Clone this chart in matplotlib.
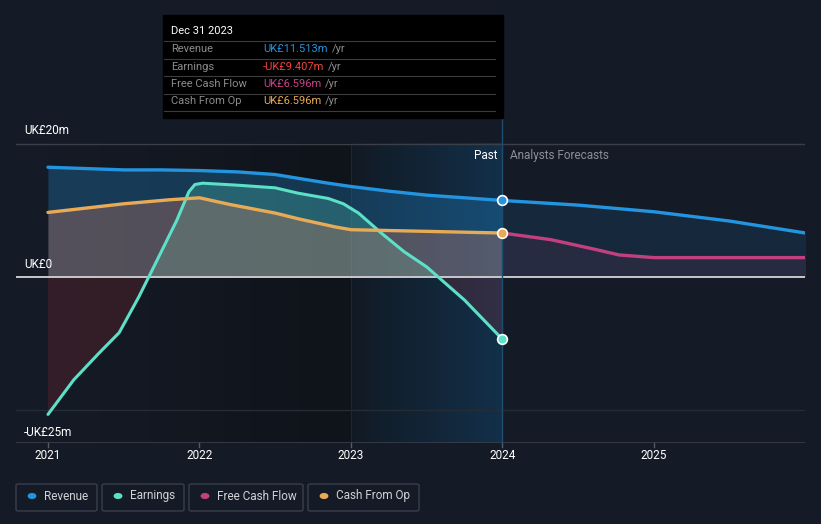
import matplotlib.pyplot as plt
import numpy as np
from matplotlib.patches import FancyBboxPatch, Rectangle
from matplotlib.lines import Line2D
from matplotlib.colors import to_rgb

plt.rcParams['font.family'] = ['Roboto', 'DejaVu Sans']

# data (UK£ m), x as decimal years
rev_x = [2021.0, 2021.25, 2021.5, 2021.75, 2022.0, 2022.25, 2022.5, 2022.66, 2022.85, 2023.0, 2023.25, 2023.5, 2023.75, 2024.0]
rev_y = [16.5, 16.3, 16.1, 16.1, 16.0, 15.8, 15.4, 14.8, 14.1, 13.6, 12.9, 12.3, 11.9, 11.5]
rev_fx = [2024.0, 2024.5, 2025.0, 2025.5, 2026.0]
rev_fy = [11.5, 10.8, 9.8, 8.4, 6.6]

earn_x = [2021.0, 2021.17, 2021.34, 2021.47, 2021.6, 2021.72, 2021.85, 2021.93, 2021.97, 2022.02, 2022.25,
          2022.5, 2022.65, 2022.85, 2022.95, 2023.05, 2023.2, 2023.35, 2023.5, 2023.75, 2024.0]
earn_y = [-20.7, -15.5, -11.4, -8.4, -3.0, 2.5, 8.5, 12.8, 13.9, 14.1, 13.8,
          13.4, 12.6, 11.8, 11.0, 9.6, 6.6, 3.8, 1.5, -3.5, -9.4]

cfo_x = [2021.0, 2021.5, 2021.8, 2022.0, 2022.2, 2022.5, 2022.66, 2022.9, 2023.0, 2024.0]
cfo_y = [9.7, 11.0, 11.6, 11.9, 10.9, 9.6, 8.7, 7.5, 7.1, 6.6]

fcf_x = [2024.0, 2024.32, 2024.6, 2024.77, 2025.0, 2025.5, 2026.0]
fcf_y = [6.6, 5.6, 4.2, 3.3, 2.9, 2.9, 2.9]

year_ticks = [2021, 2022, 2023, 2024, 2025]

BG = '#151b26'
C_REV = '#2394df'
C_EARN = '#5ce0c8'
C_FCF = '#c2407f'
C_CFO = '#e8aa55'


def gradient(c0, c1, n=200):
    a = np.array(to_rgb(c0))
    b = np.array(to_rgb(c1))
    t = np.linspace(0, 1, n)[:, None]
    row = a + (b - a) * t
    return np.stack([row, row])


def main():
    fig = plt.figure(figsize=(8.21, 5.24), dpi=100, facecolor=BG)
    ax = fig.add_axes([16 / 821, 1 - 443 / 524, 789 / 821, 325 / 524])
    ax.set_facecolor(BG)
    ax.set_xlim(2020.789, 2025.997)
    ytop = 20 + 26 / 6.65
    ax.set_ylim(-25, ytop)
    for s in ax.spines.values():
        s.set_visible(False)
    ax.set_yticks([])
    ax.set_xticks([])

    # past shading
    ax.imshow(gradient(BG, '#0f131a'), extent=[2021.0, 2023.0, -25, 20], aspect='auto', zorder=0)
    ax.imshow(gradient('#111a24', '#13304a'), extent=[2023.0, 2024.0, -25, 20], aspect='auto', zorder=0)
    ax.plot([2023.0, 2023.0], [-25, 20], color='#1a2736', lw=0.8, zorder=0.5)

    # grid lines
    ax.axhline(20, color='#3a3f49', lw=1, zorder=1)
    ax.axhline(-20, color='#262c36', lw=1, zorder=1)
    ax.axhline(-25, color='#3a3f49', lw=1.2, zorder=1)

    # fills
    ax.fill_between(rev_x, rev_y, 0, color=C_REV, alpha=0.28, lw=0, zorder=2)
    ax.fill_between(rev_fx, rev_fy, 0, color=C_REV, alpha=0.12, lw=0, zorder=2)
    ex = np.array(earn_x)
    ey = np.array(earn_y)
    ax.fill_between(ex, ey, 0, where=ey >= 0, interpolate=True, color=C_EARN, alpha=0.25, lw=0, zorder=2)
    ax.fill_between(ex, ey, 0, where=ey <= 0, interpolate=True, color='#c0303a', alpha=0.18, lw=0, zorder=2)
    ax.fill_between(cfo_x, cfo_y, 0, color=C_CFO, alpha=0.22, lw=0, zorder=2)
    ax.fill_between(cfo_x, cfo_y, 0, color=C_FCF, alpha=0.12, lw=0, zorder=2)
    ax.fill_between(fcf_x, fcf_y, 0, color=C_FCF, alpha=0.1, lw=0, zorder=2)

    ax.axhline(0, color='#c8c8cc', lw=1.4, zorder=3)

    # lines
    ax.plot(rev_x, rev_y, color=C_REV, lw=2.4, zorder=4, solid_capstyle='round', solid_joinstyle='round')
    ax.plot(rev_fx, rev_fy, color=C_REV, lw=2.4, zorder=4, solid_capstyle='round', solid_joinstyle='round')
    ax.plot(earn_x, earn_y, color=C_EARN, lw=2.2, zorder=4, solid_capstyle='round', solid_joinstyle='round')
    ax.plot(fcf_x, fcf_y, color=C_FCF, lw=2.4, zorder=4, solid_capstyle='round', solid_joinstyle='round')
    ax.plot(cfo_x, cfo_y, color=C_CFO, lw=2.4, zorder=5, solid_capstyle='round', solid_joinstyle='round')

    ax.plot([2024.0], [rev_y[-1]], 'o', ms=7, mfc=C_REV, mec='white', mew=1.2, zorder=6)
    ax.plot([2024.0], [cfo_y[-1]], 'o', ms=7, mfc=C_CFO, mec='white', mew=1.2, zorder=6)
    ax.plot([2024.0], [earn_y[-1]], 'o', ms=7, mfc=C_EARN, mec='white', mew=1.2, zorder=6)

    # vertical marker line
    ax.plot([2024.0, 2024.0], [-25, ytop], color='#1f4d70', lw=1, zorder=3)

    # x ticks
    for yr in year_ticks:
        ax.plot([yr, yr], [-25, -25.6], color='#555a63', lw=1, clip_on=False)
        ax.text(yr, -26.9, str(yr), color='white', fontsize=8.5, ha='center', va='center', clip_on=False)

    # y labels
    fig.text(24 / 821, 1 - 131 / 524, 'UK£20m', color='white', fontsize=8.5, va='center')
    fig.text(24 / 821, 1 - 264 / 524, 'UK£0', color='white', fontsize=8.5, va='center')
    fig.text(24 / 821, 1 - 432 / 524, '-UK£25m', color='white', fontsize=8.5, va='center')

    fig.text(497 / 821, 1 - 156 / 524, 'Past', color='white', fontsize=8.5, ha='right', va='center')
    fig.text(510 / 821, 1 - 156 / 524, 'Analysts Forecasts', color='#8a8f98', fontsize=8.5, va='center')

    # tooltip
    fig.patches.append(Rectangle((163 / 821, 1 - 118 / 524), 340 / 821, 103 / 524,
                                 transform=fig.transFigure, color='black', zorder=10))
    fig.text(171 / 821, 1 - 31 / 524, 'Dec 31 2023', color='white', fontsize=8, va='center', zorder=11)
    rows = [('Revenue', 'UK£11.513m', C_REV), ('Earnings', '-UK£9.407m', '#f0443f'),
            ('Free Cash Flow', 'UK£6.596m', '#c8418a'), ('Cash From Op', 'UK£6.596m', C_CFO)]
    for i, (name, val, c) in enumerate(rows):
        yy = 49 + i * 17.5
        fig.lines.append(Line2D([164 / 821, 495 / 821], [1 - (yy - 8) / 524] * 2, transform=fig.transFigure,
                                color='#3c3c3c', lw=0.8, zorder=11))
        fig.text(171 / 821, 1 - yy / 524, name, color='#8c8c8c', fontsize=8, va='center', zorder=11)
        t = fig.text(263 / 821, 1 - yy / 524, val, color=c, fontsize=8, va='center', zorder=11)
        fig.canvas.draw()
        bb = t.get_window_extent()
        fig.text(bb.x1 / 821 + 4 / 821, 1 - yy / 524, '/yr', color='#8c8c8c', fontsize=8, va='center', zorder=11)
    fig.lines.append(Line2D([164 / 821, 495 / 821], [1 - 111 / 524] * 2, transform=fig.transFigure,
                            color='#3c3c3c', lw=0.8, zorder=11))

    # legend
    items = [('Revenue', C_REV, 16, 81), ('Earnings', C_EARN, 102, 82),
             ('Free Cash Flow', C_FCF, 189, 114), ('Cash From Op', C_CFO, 308, 111)]
    for name, c, x0, w in items:
        fig.patches.append(FancyBboxPatch((x0 / 821, 1 - 511 / 524), w / 821, 27 / 524,
                                          boxstyle='round,pad=0,rounding_size=0.003',
                                          transform=fig.transFigure, fc='none', ec='#3a3f4a', lw=1))
        fig.patches.append(plt.Circle(((x0 + 16) / 821, 1 - 496 / 524), 0.0045, transform=fig.transFigure,
                                      color=c))
        fig.text((x0 + 28) / 821, 1 - 496 / 524, name, color='#d0d2d6', fontsize=8.5, va='center')

    fig.savefig('out.png', dpi=100, facecolor=BG)


if __name__ == "__main__":
    main()
